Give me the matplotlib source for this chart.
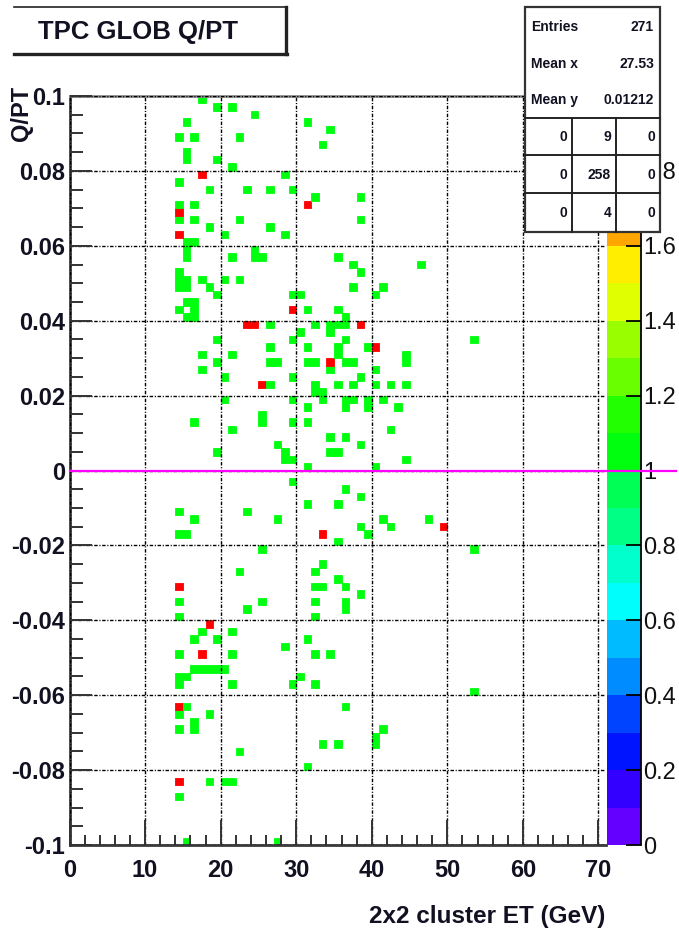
import colorsys
import numpy as np
import matplotlib
matplotlib.use("Agg")
import matplotlib.pyplot as plt
from matplotlib.colors import ListedColormap, Normalize
from matplotlib.ticker import FixedLocator, MultipleLocator, FixedFormatter
from matplotlib.patches import Rectangle
from matplotlib.lines import Line2D

# ---------------- data ----------------
title = "TPC GLOB Q/PT"
x_label = "2x2 cluster ET (GeV)"
y_label = "Q/PT"

et_edges = np.arange(0, 72, 1)            # 1 GeV bins
qpt_edges = np.linspace(-0.1, 0.1, 101)   # 0.002 bins

# bins holding one entry: Q/PT row (lower bin edge) and the ET bins (lower edge) on that row
single_qpt = [0.098, 0.096, 0.094, 0.092, 0.090, 0.088, 0.086, 0.084, 0.082, 0.080,
              0.078, 0.076, 0.074, 0.072, 0.070, 0.066, 0.064, 0.062, 0.060,
              0.058, 0.056, 0.054, 0.052, 0.050, 0.048, 0.046, 0.044, 0.042, 0.040,
              0.038, 0.036, 0.034, 0.032, 0.030, 0.028, 0.026, 0.024, 0.022, 0.020,
              0.018, 0.016, 0.014, 0.012, 0.010, 0.008, 0.006, 0.004, 0.002, 0.000,
              -0.004, -0.006, -0.008, -0.010, -0.012, -0.014, -0.016, -0.018, -0.020, -0.022,
              -0.026, -0.028, -0.030, -0.032, -0.034, -0.036, -0.038, -0.040, -0.044,
              -0.046, -0.048, -0.050, -0.054, -0.056, -0.058, -0.060,
              -0.064, -0.066, -0.068, -0.070, -0.072, -0.074, -0.076, -0.080, -0.084, -0.088, -0.100]
single_et = [[17], [19, 21], [24], [15, 31], [34], [14, 16, 22], [33], [15], [15, 19], [21],
             [28], [14], [18, 23, 26, 29], [32, 38], [14, 16], [14, 16, 22, 38], [18, 26], [20, 28], [15, 16],
             [15, 24], [15, 21, 24, 25, 35], [37, 46], [14, 38], [14, 15, 17, 20, 22], [14, 15, 18, 37, 41],
             [19, 29, 30, 40], [15, 16], [14, 16, 31, 35], [15, 16, 36],
             [26, 32, 34, 35, 36], [30, 34], [19, 29, 36, 53], [26, 31, 35, 39], [17, 21, 35, 44],
             [19, 26, 27, 31, 32, 36, 37, 44], [17, 34, 40], [20, 29, 38], [26, 32, 35, 37, 40, 42, 44], [32, 33],
             [20, 29, 33, 36, 37, 39, 41], [31, 36, 39, 43], [25], [16, 25, 29, 31], [21, 42], [34, 36],
             [27, 38], [19, 28, 34, 35], [28, 29, 44], [31, 40],
             [29], [36], [38], [31, 35], [14, 23], [16, 27, 41, 47], [38, 42], [14, 15, 39], [35], [25, 53],
             [33], [22, 32], [35], [32, 33, 36], [38], [14, 25, 32, 36], [23, 36], [14, 32], [17, 21],
             [16, 19, 31], [28], [14, 21, 32, 34], [16, 17, 18, 19, 20], [14, 15, 30], [14, 21, 29, 32], [53],
             [15, 36], [14, 18], [16], [14, 16, 41], [40], [33, 35, 40], [22], [31], [18, 20, 21], [14], [15, 27]]

# bins holding two entries
double_qpt = [0.078, 0.070, 0.068, 0.062, 0.042, 0.038, 0.032, 0.028, 0.022,
              -0.016, -0.018, -0.032, -0.042, -0.050, -0.064, -0.084]
double_et = [[17], [31], [14], [14], [29], [23, 24, 38], [40], [34], [25],
             [49], [33], [14], [18], [17], [14], [14]]

stat_names = ["Entries", "Mean x", "Mean y"]
stat_values = ["271", "27.53", "0.01212"]
overflow_grid = [["0", "9", "0"], ["0", "258", "0"], ["0", "4", "0"]]

x_ticks = [0, 10, 20, 30, 40, 50, 60, 70]
x_tick_labels = ["0", "10", "20", "30", "40", "50", "60", "70"]
y_ticks = [-0.1, -0.08, -0.06, -0.04, -0.02, 0.0, 0.02, 0.04, 0.06, 0.08, 0.1]
y_tick_labels = ["-0.1", "-0.08", "-0.06", "-0.04", "-0.02", "0", "0.02", "0.04", "0.06", "0.08", "0.1"]
z_ticks = [0, 0.2, 0.4, 0.6, 0.8, 1.0, 1.2, 1.4, 1.6, 1.8, 2.0]
z_tick_labels = ["0", "0.2", "0.4", "0.6", "0.8", "1", "1.2", "1.4", "1.6", "1.8", "2"]

# ---------------- histogram ----------------
assert len(single_qpt) == len(single_et)
assert len(double_qpt) == len(double_et)
counts = np.zeros((len(qpt_edges) - 1, len(et_edges) - 1))
for rows_q, rows_e, n in ((single_qpt, single_et, 1), (double_qpt, double_et, 2)):
    for q, ets in zip(rows_q, rows_e):
        iy = int(round((q - qpt_edges[0]) / 0.002))
        for e in ets:
            counts[iy, int(e)] += n
masked = np.ma.masked_equal(counts, 0)

# ROOT "pretty" palette, 20 contour levels
pretty = []
for i in range(49):
    hue = 280.0 - (i + 1) * 280.0 / 50.0
    pretty.append(colorsys.hls_to_rgb(hue / 360.0, 0.5, 1.0))
pretty.append((1.0, 0.0, 0.0))
n_levels = 20
band_colors = [pretty[int((k + 0.99) * 50 / n_levels)] for k in range(n_levels)]
cmap = ListedColormap(band_colors)
norm = Normalize(vmin=z_ticks[0], vmax=z_ticks[-1])

# ---------------- figure ----------------
W, H = 679, 933
plt.rcParams['font.family'] = ['Liberation Sans', 'DejaVu Sans']
fig = plt.figure(figsize=(W / 100, H / 100), dpi=100)


def box(x0, y0, x1, y1):
    return [x0 / W, 1 - y1 / H, (x1 - x0) / W, (y1 - y0) / H]


def fp(x, y):
    return x / W, 1 - y / H


ax = fig.add_axes(box(69.5, 96, 606, 845))
cax = fig.add_axes(box(607, 96, 640.5, 845))
ax.set_zorder(2)

mesh = ax.pcolormesh(et_edges, qpt_edges, masked, cmap=cmap, norm=norm,
                     edgecolors='face', linewidth=0.6, antialiased=True, zorder=1)
ax.set_xlim(0, 71)
ax.set_ylim(-0.1, 0.1)

ax.xaxis.set_major_locator(FixedLocator(x_ticks))
ax.xaxis.set_major_formatter(FixedFormatter(x_tick_labels))
ax.xaxis.set_minor_locator(MultipleLocator(2))
ax.yaxis.set_major_locator(FixedLocator(y_ticks))
ax.yaxis.set_major_formatter(FixedFormatter(y_tick_labels))
ax.yaxis.set_minor_locator(MultipleLocator(0.005))

ax.grid(True, which='major', color='black', linewidth=1.0,
        linestyle=(0, (2.5, 1.2, 0.8, 1.2)), zorder=3)
ax.set_axisbelow(False)

ax.tick_params(axis='x', which='major', direction='in', length=18, width=1.4,
               color='#333333', pad=10, labelsize=17, top=False)
ax.tick_params(axis='x', which='minor', direction='in', length=7.5, width=1.4,
               color='#333333', top=False)
ax.tick_params(axis='y', which='major', direction='in', length=16, width=1.4,
               color='#333333', pad=3, labelsize=17, right=False)
ax.tick_params(axis='y', which='minor', direction='in', length=9, width=1.4,
               color='#333333', right=False)
for lab in ax.get_xticklabels() + ax.get_yticklabels():
    lab.set_fontweight('bold')
    lab.set_color('#111122')

for side in ('left', 'bottom'):
    ax.spines[side].set_color('#3a3a3a')
    ax.spines[side].set_linewidth(2.0)
ax.spines['top'].set_color('#8a8a8a')
ax.spines['top'].set_linewidth(2.0)
ax.spines['right'].set_visible(False)

# zero line across the pad
ax.plot([0, 80.3], [0, 0], color='#ff00ff', linewidth=1.6, clip_on=False, zorder=10)

# palette
cbar = fig.colorbar(mesh, cax=cax, ticks=z_ticks)
cbar.outline.set_visible(False)
cax.set_yticklabels(z_tick_labels)
cax.tick_params(axis='y', direction='in', length=11, width=1.3, color='black',
                pad=2, labelsize=17, labelcolor='#111111')
cax.plot([1, 1], [0, 1], transform=cax.transAxes, color='black', linewidth=1.3,
         clip_on=False)

# title pave
tl = dict(color='#222222', linewidth=1.2, zorder=5)
fig.add_artist(Line2D([fp(14, 0)[0], fp(286, 0)[0]], [fp(0, 6.5)[1]] * 2, **tl))
fig.add_artist(Line2D([fp(286, 0)[0]] * 2, [fp(0, 6.5)[1], fp(0, 54)[1]],
                      color='#222222', linewidth=2.4, zorder=5))
fig.add_artist(Line2D([fp(14, 0)[0], fp(287, 0)[0]], [fp(0, 54)[1]] * 2,
                      color='#222222', linewidth=2.4, zorder=5))
fig.text(*fp(138.5, 32), title, ha='center', va='center', fontsize=18.5,
         fontweight='bold', color='#111122', zorder=6)

# stats pave
fig.add_artist(Rectangle(fp(525, 232), 135 / W, 225 / H, facecolor='white',
                         edgecolor='#333333', linewidth=1.6, zorder=5))
for i, (nm, val) in enumerate(zip(stat_names, stat_values)):
    yy = 27 + i * 36.5
    fig.text(*fp(531, yy), nm, ha='left', va='center', fontsize=10,
             fontweight='bold', color='#111122', zorder=6)
    fig.text(*fp(654, yy), val, ha='right', va='center', fontsize=10,
             fontweight='bold', color='#111122', zorder=6)
row_lines = [118, 155, 193]
col_lines = [572, 616]
for yy in row_lines:
    fig.add_artist(Line2D([fp(525, 0)[0], fp(660, 0)[0]], [fp(0, yy)[1]] * 2,
                          color='#222222', linewidth=1.4, zorder=6))
for xx in col_lines:
    fig.add_artist(Line2D([fp(xx, 0)[0]] * 2, [fp(0, 118)[1], fp(0, 232)[1]],
                          color='#222222', linewidth=1.4, zorder=6))
row_centers = [137, 175, 213]
col_rights = [567, 611, 655]
for r, row in enumerate(overflow_grid):
    for c, val in enumerate(row):
        fig.text(*fp(col_rights[c], row_centers[r]), val, ha='right', va='center',
                 fontsize=10, fontweight='bold', color='#111122', zorder=7)

# axis titles
fig.text(*fp(22, 86), y_label, rotation=90, ha='center', va='top', fontsize=17,
         fontweight='bold', color='#111122')
fig.text(*fp(605, 917), x_label, ha='right', va='center', fontsize=17.5,
         fontweight='bold', color='#111122')

fig.savefig("out.png", dpi=100)
